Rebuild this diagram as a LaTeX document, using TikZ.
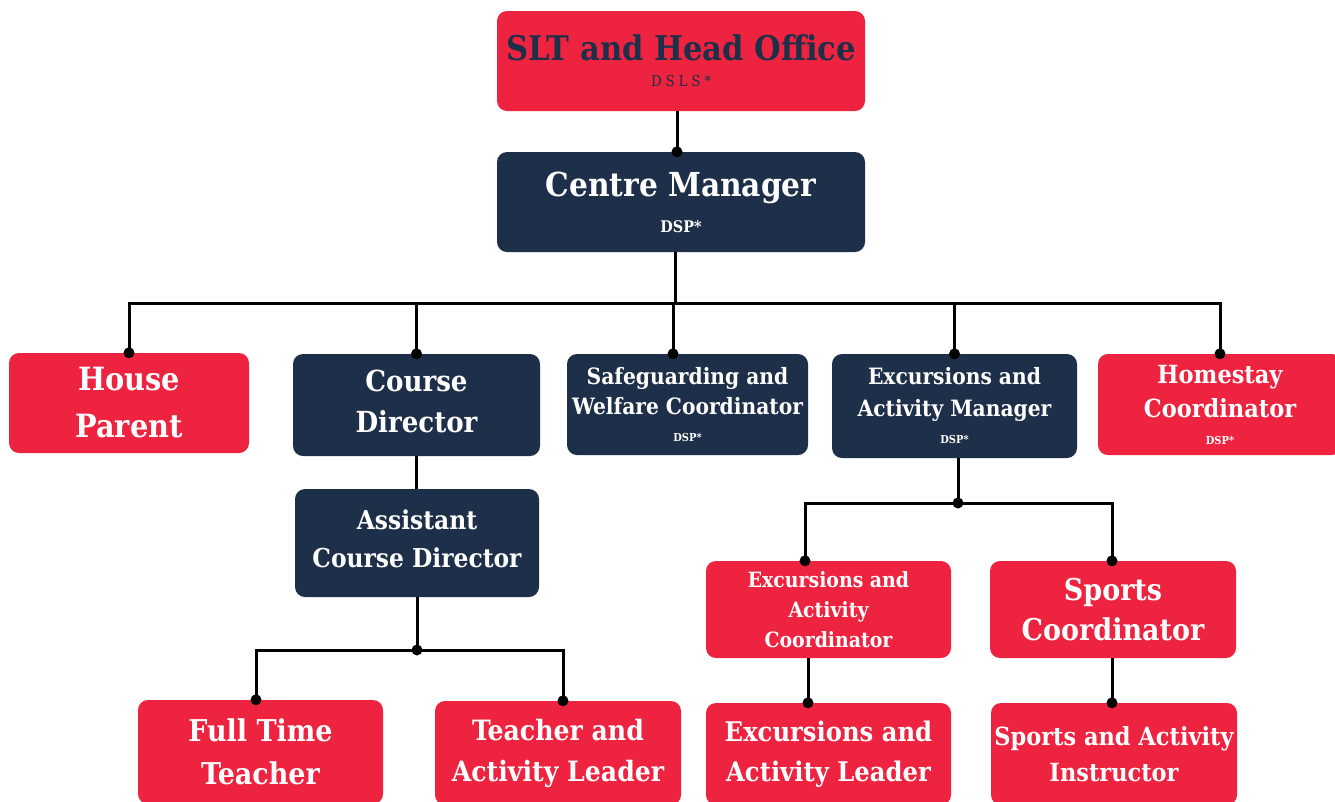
\documentclass[tikz,border=0pt]{standalone}
\usepackage{fontspec}
\setmainfont{DejaVu Serif Condensed}
\usepackage{xcolor}
\definecolor{chartred}{RGB}{238,35,64}
\definecolor{chartnavy}{RGB}{30,47,74}
\newcommand{\boxfont}[2]{\bfseries\fontsize{#1}{#2}\selectfont}

\begin{document}
\begin{tikzpicture}[x=1pt,y=-1pt,
	redbox/.style={fill=chartred, rounded corners=10pt, text=white, align=center, inner sep=0pt},
	navybox/.style={fill=chartnavy, rounded corners=10pt, text=white, align=center, inner sep=0pt},
	wire/.style={line width=3pt, black},
	joint/.style={circle, fill=black, inner sep=0pt, minimum size=11pt}]
	\useasboundingbox[fill=white] (0,0) rectangle (1335,801);
	% top of the chart
	\node[redbox, minimum width=368, minimum height=100, text=chartnavy, font=\boxfont{34}{38}] (slt) at (681,61) {SLT and Head Office\\[-12pt]{\fontsize{15}{17}\selectfont\mdseries\addfontfeatures{LetterSpace=25}DSLS*}};
	\node[navybox, minimum width=368, minimum height=100, font=\boxfont{33}{40}] (cm) at (681,202) {Centre Manager\\[-4pt]{\fontsize{16}{18}\selectfont DSP*}};
	\draw[wire] (slt.south -| 677,0) -- (cm.north -| 677,0) node[joint] {};
	% second row
	\node[redbox, minimum width=240, minimum height=100, font=\boxfont{32}{47}] (hp) at (129,403) {House\\Parent};
	\node[navybox, minimum width=247, minimum height=102, font=\boxfont{29}{41}, text depth=8] (cd) at (416.5,405) {Course\\Director};
	\node[navybox, minimum width=241, minimum height=101, font=\boxfont{22.5}{30}] (sw) at (687.5,404.5) {Safeguarding and\\Welfare Coordinator\\[-3pt]{\fontsize{11}{13}\selectfont DSP*}};
	\node[navybox, minimum width=245, minimum height=104, font=\boxfont{22.5}{32}] (eam) at (954.5,406) {Excursions and\\Activity Manager\\[-5pt]{\fontsize{11}{13}\selectfont DSP*}};
	\node[redbox, minimum width=244, minimum height=101, font=\boxfont{25}{34}] (hs) at (1220,404.5) {Homestay\\Coordinator\\[-7pt]{\fontsize{11}{13}\selectfont DSP*}};
	\coordinate (bus) at (675,303);
	\draw[wire] (cm.south -| bus) -- (bus);
	\draw[wire] (hp.north) node[joint] {} -- (hp.north |- bus) -- (hs.north |- bus) -- (hs.north) node[joint] {};
	\draw[wire] (cd.north |- bus) -- (cd.north) node[joint] {};
	\draw[wire] ([xshift=-14.5]sw.north |- bus) -- ([xshift=-14.5]sw.north) node[joint] {};
	\draw[wire] (eam.north |- bus) -- (eam.north) node[joint] {};
	% course director branch
	\node[navybox, minimum width=244, minimum height=108, font=\boxfont{26}{38}, text depth=8] (acd) at (417,543) {Assistant\\Course Director};
	\node[redbox, minimum width=245, minimum height=104, font=\boxfont{30}{43}] (ftt) at (260.5,752) {Full Time\\Teacher};
	\node[redbox, minimum width=246, minimum height=104, font=\boxfont{28}{41}] (tal) at (558,753) {Teacher and\\Activity Leader};
	\draw[wire] (cd.south) -- (cd.south |- acd.north);
	\coordinate (cbus) at (417,650);
	\draw[wire] (acd.south) -- (cbus) node[joint] {};
	\draw[wire] ([xshift=-4.5]ftt.north) node[joint] {} -- ([xshift=-4.5]ftt.north |- cbus) -- ([xshift=5]tal.north |- cbus) -- ([xshift=5]tal.north) node[joint] {};
	% excursions branch
	\node[redbox, minimum width=245, minimum height=97, font=\boxfont{21}{30}] (eac) at (828.5,609.5) {Excursions and\\Activity\\Coordinator};
	\node[redbox, minimum width=246, minimum height=97, font=\boxfont{30}{40}] (sc) at (1113,609.5) {Sports\\Coordinator};
	\node[redbox, minimum width=245, minimum height=102, font=\boxfont{27}{40}] (eal) at (828.5,754) {Excursions and\\Activity Leader};
	\node[redbox, minimum width=246, minimum height=102, font=\boxfont{25}{36}] (sai) at (1114,754) {Sports and Activity\\Instructor};
	\coordinate (ebus) at (958,503);
	\draw[wire] ([xshift=3.5]eam.south) -- (ebus) node[joint] {};
	\draw[wire] ([xshift=-23.5]eac.north) node[joint] {} -- ([xshift=-23.5]eac.north |- ebus) -- ([xshift=-1]sc.north |- ebus) -- ([xshift=-1]sc.north) node[joint] {};
	\draw[wire] ([xshift=-20.5]eac.south) -- ([xshift=-20.5]eal.north) node[joint] {};
	\draw[wire] ([xshift=-1]sc.south) -- ([xshift=-2]sai.north) node[joint] {};
\end{tikzpicture}
\end{document}
